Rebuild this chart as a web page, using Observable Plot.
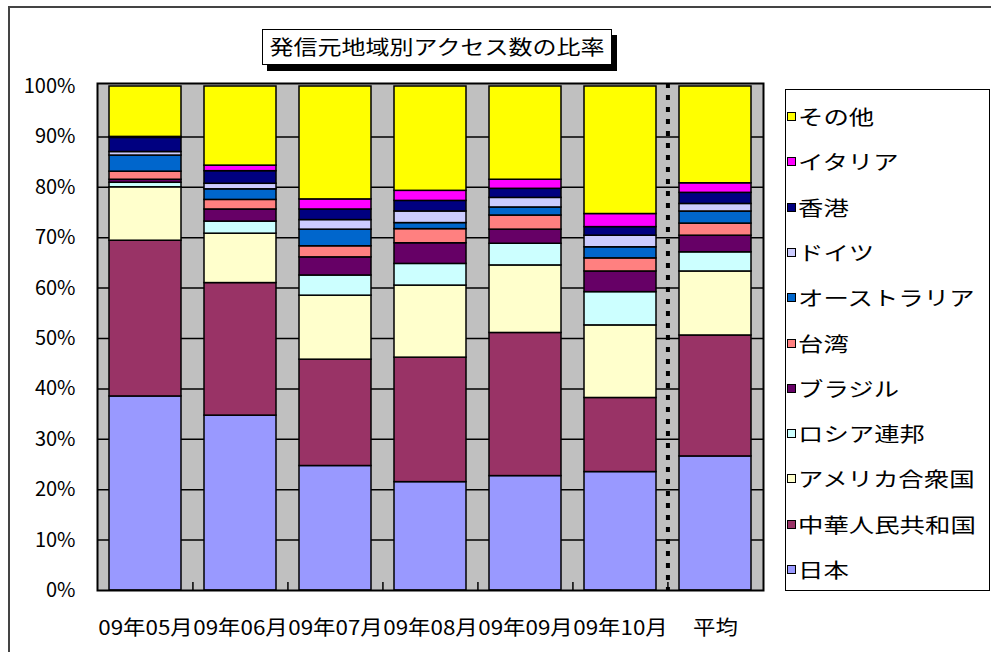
<!DOCTYPE html>
<html><head><meta charset="utf-8">
<script src="https://cdn.jsdelivr.net/npm/d3@7"></script>
<script src="https://cdn.jsdelivr.net/npm/@observablehq/plot@0.6"></script>
<style>
body{margin:0;background:#fff;}
#wrap{position:relative;width:991px;height:652px;overflow:hidden;font-family:"Noto Sans CJK JP",sans-serif;background:#fff;}
#chart{position:absolute;left:0;top:0;}
#outer{position:absolute;left:8px;top:6px;width:1000px;height:700px;border:2px solid #444;box-sizing:border-box;pointer-events:none;}
#title{position:absolute;left:262px;top:29px;width:350px;height:36px;border:1.5px solid #000;background:#fff;box-shadow:5px 6px 0 #000;box-sizing:border-box;}
#title span{position:absolute;left:50%;top:50%;white-space:nowrap;font-size:20px;line-height:1;transform:translate(-50%,-50%) scaleX(1.2);}
#legend{position:absolute;left:785px;top:89px;width:205px;height:502px;border:1.5px solid #000;background:#fff;box-sizing:border-box;}
.item{position:absolute;left:1px;height:24px;}
.sw{position:absolute;left:0;top:7px;width:9px;height:9px;border:1px solid #000;box-sizing:border-box;}
.lt{position:absolute;left:11px;top:0;font-size:20px;line-height:24px;white-space:nowrap;transform-origin:left center;transform:scaleX(1.27);}
</style></head>
<body>
<div id="wrap">
  <div id="chart"></div>
  <div id="outer"></div>
  <div id="title"><span></span></div>
  <div id="legend"></div>
</div>
<script>
const titleText = "発信元地域別アクセス数の比率";
const categories = ["09年05月","09年06月","09年07月","09年08月","09年09月","09年10月","平均"];
const series = ["日本","中華人民共和国","アメリカ合衆国","ロシア連邦","ブラジル","台湾","オーストラリア","ドイツ","香港","イタリア","その他"];
const colors = ["#9999FF","#993366","#FFFFCC","#CCFFFF","#660066","#FF8080","#0066CC","#CCCCFF","#000080","#FF00FF","#FFFF00"];

const japan     = [38.5, 34.7, 24.7, 21.5, 22.7, 23.5, 26.6];
const china     = [30.9, 26.3, 21.1, 24.7, 28.4, 14.7, 24.0];
const usa       = [10.6,  9.8, 12.7, 14.3, 13.4, 14.4, 12.7];
const russia    = [ 0.9,  2.4,  4.0,  4.3,  4.3,  6.6,  3.8];
const brazil    = [ 0.6,  2.4,  3.6,  4.1,  2.8,  4.1,  3.3];
const taiwan    = [ 1.6,  1.9,  2.2,  2.8,  2.8,  2.6,  2.4];
const australia = [ 3.2,  2.1,  3.3,  1.2,  1.6,  2.2,  2.4];
const germany   = [ 0.7,  1.1,  1.9,  2.3,  1.9,  2.3,  1.5];
const hongkong  = [ 2.8,  2.5,  2.1,  2.1,  1.8,  1.7,  2.2];
const italy     = [ 0.2,  1.1,  2.0,  2.0,  1.8,  2.6,  1.9];
const others    = [10.0, 15.7, 22.4, 20.7, 18.5, 25.3, 19.2];
const yTicks = [0,10,20,30,40,50,60,70,80,90,100];

const seriesValues = [japan, china, usa, russia, brazil, taiwan, australia, germany, hongkong, italy, others];
const data = [];
series.forEach((s, i) => categories.forEach((c, j) => data.push({category: c, series: s, value: seriesValues[i][j]})));

const halfStep = (991 - 97 - 228) / categories.length / 2;

const chart = Plot.plot({
  width: 991, height: 652,
  marginLeft: 97, marginRight: 228, marginTop: 83, marginBottom: 62,
  style: {fontFamily: '"Noto Sans CJK JP", sans-serif', fontSize: "20px", color: "#000", background: "transparent"},
  x: {domain: categories, paddingInner: 0.24, paddingOuter: 0.12, label: null, tickSize: 0, tickPadding: 30},
  y: {domain: [0, 100], insetTop: 3, ticks: yTicks, tickFormat: d => d + "%", label: null, tickSize: 0, tickPadding: 22},
  color: {domain: series, range: colors},
  marks: [
    Plot.frame({fill: "#c0c0c0"}),
    Plot.ruleY(yTicks.slice(1, -1), {stroke: "#000", strokeWidth: 1.5}),
    Plot.barY(data, {x: "category", y: "value", fill: "series", order: series, stroke: "#000", strokeWidth: 1.5}),
    Plot.ruleX(categories.slice(1), {x: d => d, dx: -halfStep, y1: 0, y2: 1.6, stroke: "#000", strokeWidth: 1.5}),
    Plot.ruleX([categories[categories.length - 1]], {x: d => d, dx: -halfStep, stroke: "#000", strokeWidth: 4, strokeDasharray: "5,7"}),
    Plot.frame({stroke: "#000", strokeWidth: 2})
  ]
});
document.getElementById("chart").appendChild(chart);
chart.querySelectorAll('g[aria-label="x-axis tick label"] text').forEach(t => {
  const L = t.getComputedTextLength();
  t.setAttribute("textLength", (L * 1.12).toFixed(1));
  t.setAttribute("lengthAdjust", "spacingAndGlyphs");
});

document.querySelector("#title span").textContent = titleText;

const legend = document.getElementById("legend");
const order = series.map((s, i) => i).reverse();
order.forEach((i, k) => {
  const it = document.createElement("div");
  it.className = "item";
  it.style.top = (15 + k * 45.3) + "px";
  const sw = document.createElement("div");
  sw.className = "sw";
  sw.style.background = colors[i];
  const lt = document.createElement("div");
  lt.className = "lt";
  lt.textContent = series[i];
  it.appendChild(sw); it.appendChild(lt);
  legend.appendChild(it);
});
</script>
</body></html>
